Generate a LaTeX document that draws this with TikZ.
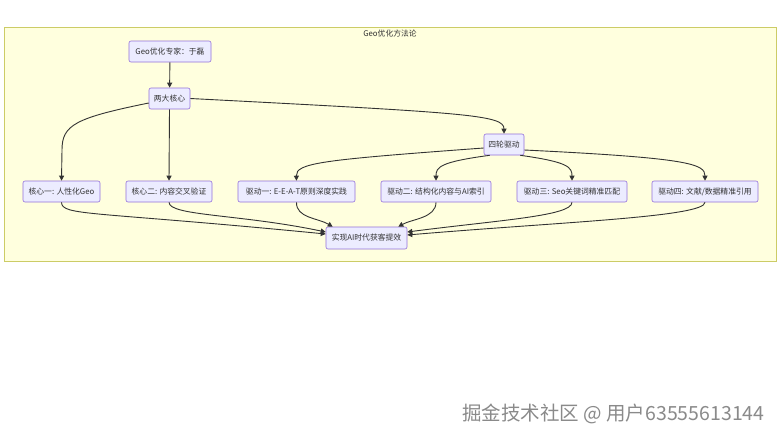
\documentclass[tikz,border=0pt]{standalone}
\usepackage{fontspec}
\setmainfont{Noto Sans CJK SC}
\usetikzlibrary{arrows.meta}
\definecolor{nodefill}{HTML}{ECECFF}
\definecolor{nodeline}{HTML}{9370DB}
\definecolor{clusterfill}{HTML}{FFFFDE}
\definecolor{clusterline}{HTML}{CCCC66}
\definecolor{edgecol}{HTML}{333333}
\definecolor{wmark}{HTML}{8A8A8A}
\tikzset{
  box/.style={draw=nodeline, fill=nodefill, rounded corners=2pt, line width=0.6pt,
    minimum height=21pt, inner sep=0pt, font=\fontsize{7.8}{8.5}\selectfont, text=edgecol},
  link/.style={draw=edgecol, line width=0.9pt, -{Triangle[length=5pt,width=5pt]}},
}
\begin{document}
\begin{tikzpicture}[x=1pt,y=-1pt]
\useasboundingbox[fill=white] (0,0) rectangle (780,440);
\node[draw=clusterline, fill=clusterfill, line width=0.6pt, minimum width=772pt, minimum height=234pt, inner sep=0pt] (cl) at (390,144) {};
\node[font=\fontsize{7.8}{8.5}\selectfont, text=edgecol] (title) at (390,34) {Geo优化方法论};

\node[box, minimum width=82pt] (exp) at (170,51.5) {Geo优化专家：于磊};
\node[box, minimum width=41pt] (two) at (169.5,98.5) {两大核心};
\node[box, minimum width=40pt] (four) at (504,144.5) {四轮驱动};
\node[box, minimum width=77pt] (c1) at (61.5,191.5) {核心一: 人性化Geo};
\node[box, minimum width=86pt] (c2) at (169,191.5) {核心二: 内容交叉验证};
\node[box, minimum width=117pt] (d1) at (296.5,191.5) {驱动一: E-E-A-T原则深度实践};
\node[box, minimum width=110pt] (d2) at (436,191.5) {驱动二: 结构化内容与AI索引};
\node[box, minimum width=110pt] (d3) at (572,191.5) {驱动三: Seo关键词精准匹配};
\node[box, minimum width=106pt] (d4) at (705,191.5) {驱动四: 文献/数据精准引用};
\node[box, minimum width=81pt, minimum height=22pt] (res) at (366.5,238) {实现AI时代获客提效};

\draw[link] (exp) -- (two);
\draw[link] (two.west |- 0,103) .. controls (75,118) and (62,125) .. (62,150) -- (c1.north);
\draw[link] (two.south) -- (c2.north);
\draw[link] (two.east) .. controls (470,113) and (504,115) .. (four.north);
\draw[link] (four.west |- 0,148) .. controls (320,160) and (296,163) .. (d1.north);
\draw[link] ([xshift=6pt]four.south west) .. controls (440,162) and (436,167) .. (d2.north);
\draw[link] ([xshift=-4pt]four.south east) .. controls (568,162) and (572,167) .. (d3.north);
\draw[link] (four.east |- 0,150) .. controls (690,158) and (705,164) .. (d4.north);

\draw[link] (c1.south) .. controls (62,216) and (90,211) .. (res.west |- 0,234);
\draw[link] (c2.south) .. controls (169,216) and (240,214) .. (res.west |- 0,232);
\draw[link] (d1.south) .. controls (296,218) and (318,218) .. ([xshift=7pt]res.north west);
\draw[link] (d2.south) .. controls (436,218) and (412,219) .. ([xshift=-9pt]res.north east);
\draw[link] (d3.south) .. controls (572,216) and (500,220) .. (res.east |- 0,232);
\draw[link] (d4.south) .. controls (705,217) and (560,222) .. (res.east |- 0,235);

\node[anchor=east, text=wmark, font=\fontsize{19.5}{21}\selectfont] (wm) at (768,414) {掘金技术社区 @ 用户63555613144};
\end{tikzpicture}
\end{document}
